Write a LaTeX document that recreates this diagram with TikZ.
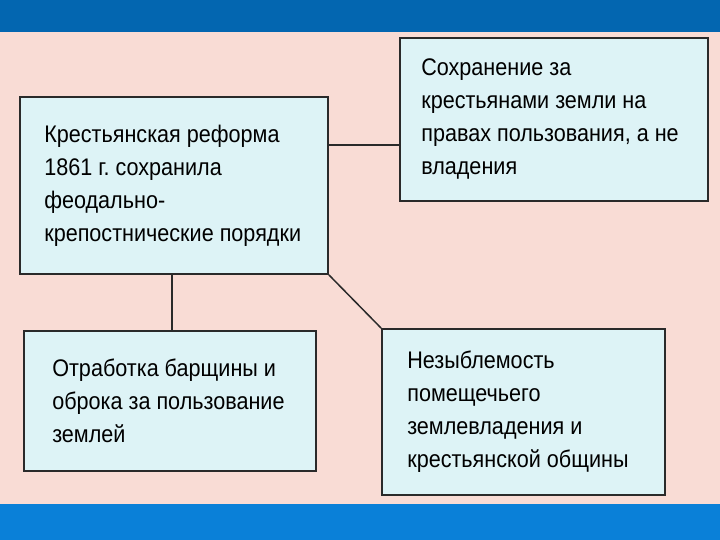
\documentclass[tikz,border=0pt]{standalone}
\usepackage{fontspec}
\setmainfont{Liberation Sans}[FakeStretch=0.9]
\frenchspacing
\definecolor{topband}{HTML}{0366B0}
\definecolor{botband}{HTML}{0A80D8}
\definecolor{pinkbg}{HTML}{F9DCD5}
\definecolor{boxfill}{HTML}{DDF3F6}
\definecolor{boxline}{HTML}{2A2A2A}
\tikzset{
  infobox/.style={draw=boxline, line width=1.8pt, fill=boxfill, rectangle, inner sep=0pt},
  boxtext/.style={anchor=west, inner sep=0pt, align=left, text=black,
    font=\fontsize{24}{33}\selectfont},
  link/.style={draw=boxline, line width=1.5pt}
}
\begin{document}
\begin{tikzpicture}[x=1pt,y=-1pt]
\useasboundingbox (0,0) rectangle (720,540);
\fill[pinkbg] (0,0) rectangle (720,540);
\fill[topband] (0,0) rectangle (720,32);
\fill[botband] (0,504) rectangle (720,540);
\node[infobox, minimum width=308pt, minimum height=177pt] (a) at (174,185.5) {};
\node[infobox, minimum width=308pt, minimum height=163pt] (b) at (554,119.5) {};
\node[infobox, minimum width=292pt, minimum height=140pt] (c) at (170,401) {};
\node[infobox, minimum width=283pt, minimum height=166pt] (d) at (523.5,412) {};
\node[boxtext] (at) at ([xshift=25pt]a.west)
  {Крестьянская реформа\\1861 г. сохранила\\феодально-\\крепостнические порядки};
\node[boxtext] (bt) at ([xshift=22pt]b.west)
  {Сохранение за\\крестьянами земли на\\правах пользования, а не\\владения};
\node[boxtext] (ct) at ([xshift=29pt]c.west)
  {Отработка барщины и\\оброка за пользование\\землей};
\node[boxtext] (dt) at ([xshift=26pt]d.west)
  {Незыблемость\\помещечьего\\землевладения и\\крестьянской общины};
\draw[link] (a.east |- 0,145) -- (b.west |- 0,145);
\draw[link] (a.south -| 172,0) -- (c.north -| 172,0);
\draw[link] (a.south east) -- (d.north west);
\end{tikzpicture}
\end{document}
